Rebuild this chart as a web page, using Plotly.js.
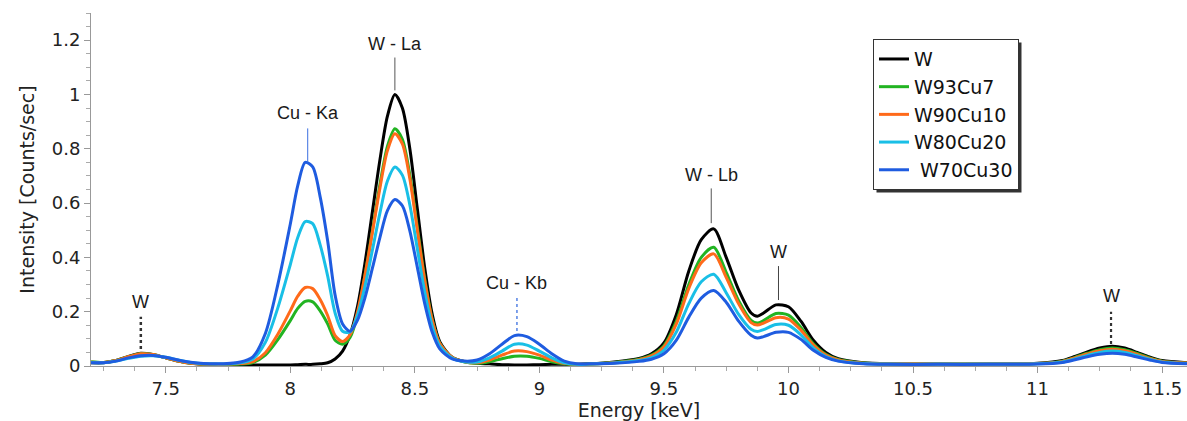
<!DOCTYPE html>
<html>
<head>
<meta charset="utf-8">
<script src="https://cdn.plot.ly/plotly-3.0.1.min.js"></script>
<style>html,body{margin:0;padding:0;background:#fff;}#chart{width:1187px;height:421px;}</style>
</head>
<body>
<div id="chart"></div>
<script>
// Energy grid [keV]
const energy = [7.20,7.25,7.30,7.35,7.40,7.45,7.50,7.55,7.60,7.70,7.80,
  7.85,7.90,7.95,8.00,
  8.03,8.06,8.09,8.12,8.15,8.18,8.21,8.24,8.27,8.30,8.33,8.36,8.39,8.42,8.45,8.48,8.51,8.54,8.57,8.60,
  8.65,8.70,
  8.75,8.80,8.85,8.90,8.95,9.00,9.05,9.10,9.15,9.20,
  9.30,9.40,
  9.45,9.50,9.55,9.60,9.65,9.70,9.75,9.80,9.85,
  9.875,
  9.90,9.95,10.00,10.05,10.10,10.15,10.20,
  10.30,10.40,10.60,10.80,11.00,
  11.10,11.15,11.20,11.25,11.30,11.35,11.40,11.45,11.50,11.60];

const seriesNames = ['W', 'W93Cu7', 'W90Cu10', 'W80Cu20', ' W70Cu30'];

const intensityW = [0.012,0.012,0.02,0.035,0.047,0.042,0.03,0.018,0.01,0.005,0.004,
  0.004,0.004,0.004,0.004,
  0.005,0.006,0.006,0.008,0.012,0.026,0.055,0.115,0.22,0.38,0.57,0.76,0.92,1.0,0.95,0.80,0.58,0.36,0.19,0.09,
  0.032,0.016,
  0.01,0.008,0.005,0.004,0.004,0.005,0.006,0.006,0.006,0.008,
  0.015,0.028,
  0.045,0.085,0.19,0.35,0.465,0.505,0.40,0.28,0.195,
  0.183,
  0.195,0.225,0.218,0.165,0.095,0.05,0.027,
  0.012,0.008,0.008,0.008,0.01,
  0.02,0.035,0.052,0.066,0.073,0.066,0.05,0.033,0.02,0.012];

const intensityW93Cu7 = [0.016,0.013,0.02,0.034,0.046,0.042,0.03,0.018,0.01,0.006,0.007,
  0.013,0.04,0.097,0.167,
  0.212,0.238,0.236,0.203,0.155,0.095,0.08,0.105,0.19,0.335,0.50,0.669,0.809,0.874,0.835,0.704,0.512,0.32,0.171,0.084,
  0.031,0.015,
  0.01,0.016,0.027,0.036,0.036,0.028,0.016,0.008,0.005,0.007,
  0.013,0.025,
  0.04,0.075,0.165,0.30,0.40,0.437,0.345,0.24,0.168,
  0.158,
  0.167,0.193,0.187,0.142,0.082,0.043,0.024,
  0.011,0.008,0.008,0.008,0.009,
  0.018,0.032,0.047,0.06,0.066,0.06,0.046,0.03,0.018,0.011];

const intensityW90Cu10 = [0.014,0.013,0.02,0.034,0.045,0.042,0.03,0.018,0.01,0.006,0.009,
  0.016,0.049,0.117,0.203,
  0.257,0.289,0.285,0.245,0.186,0.112,0.09,0.115,0.2,0.335,0.494,0.656,0.793,0.855,0.818,0.69,0.502,0.314,0.168,0.083,
  0.032,0.016,
  0.012,0.022,0.04,0.055,0.053,0.04,0.022,0.01,0.006,0.007,
  0.012,0.023,
  0.037,0.07,0.155,0.286,0.38,0.413,0.327,0.229,0.16,
  0.151,
  0.158,0.178,0.173,0.132,0.077,0.04,0.022,
  0.01,0.008,0.008,0.008,0.009,
  0.017,0.03,0.044,0.056,0.062,0.056,0.043,0.028,0.017,0.011];

const intensityW80Cu20 = [0.013,0.012,0.018,0.028,0.036,0.038,0.032,0.022,0.013,0.007,0.012,
  0.026,0.087,0.214,0.373,
  0.473,0.532,0.524,0.446,0.332,0.195,0.128,0.125,0.187,0.294,0.428,0.564,0.681,0.733,0.703,0.593,0.432,0.271,0.146,0.073,
  0.029,0.016,
  0.015,0.03,0.055,0.08,0.077,0.055,0.03,0.012,0.006,0.007,
  0.011,0.02,
  0.031,0.058,0.125,0.23,0.31,0.338,0.27,0.19,0.135,
  0.127,
  0.134,0.153,0.15,0.115,0.066,0.035,0.019,
  0.009,0.007,0.007,0.007,0.008,
  0.015,0.026,0.039,0.05,0.055,0.05,0.038,0.025,0.015,0.009];

const intensityW70Cu30 = [0.012,0.012,0.018,0.03,0.038,0.039,0.032,0.022,0.014,0.008,0.015,
  0.034,0.12,0.30,0.522,
  0.664,0.75,0.733,0.623,0.461,0.261,0.155,0.128,0.169,0.252,0.361,0.474,0.572,0.613,0.59,0.498,0.364,0.229,0.124,0.063,
  0.026,0.018,
  0.022,0.045,0.08,0.112,0.108,0.08,0.045,0.018,0.008,0.008,
  0.01,0.017,
  0.025,0.045,0.095,0.18,0.25,0.278,0.235,0.165,0.113,
  0.103,
  0.108,0.124,0.124,0.098,0.058,0.032,0.018,
  0.008,0.006,0.006,0.006,0.007,
  0.013,0.023,0.034,0.043,0.047,0.043,0.033,0.022,0.013,0.008];

// Peak labels
const peakLabels = ['W', 'Cu - Ka', 'W - La', 'Cu - Kb', 'W - Lb', 'W', 'W'];
const peakEnergy = [7.40, 8.07, 8.42, 8.91, 9.69, 9.96, 11.295];

// ---------- presentation ----------
const seriesData = [intensityW, intensityW93Cu7, intensityW90Cu10, intensityW80Cu20, intensityW70Cu30];
const seriesColors = ['#000000', '#22b422', '#ff6a1a', '#19bfe6', '#1f5ce0'];

const traces = seriesData.map((ys, i) => ({
  type: 'scatter', mode: 'lines', name: seriesNames[i],
  x: energy, y: ys,
  line: {color: seriesColors[i], width: 3, shape: 'spline', smoothing: 0.8},
  hoverinfo: 'skip'
}));

// label placement (layout only)
const labelStyle = [
  {ty: 0.236, top: 0.181, bot: 0.0625, color: '#333', w: 2.5, dash: 'dot'},
  {ty: 0.930, top: 0.875, bot: 0.75,   color: '#3a6fe0', w: 1, dash: 'solid'},
  {ty: 1.187, top: 1.136, bot: 1.015,  color: '#555', w: 1, dash: 'solid'},
  {ty: 0.305, top: 0.25,  bot: 0.129,  color: '#3a6fe0', w: 1.3, dash: 'dot'},
  {ty: 0.702, top: 0.654, bot: 0.526,  color: '#555', w: 1, dash: 'solid'},
  {ty: 0.419, top: 0.368, bot: 0.243,  color: '#444', w: 1, dash: 'solid'},
  {ty: 0.257, top: 0.20,  bot: 0.081,  color: '#333', w: 2.2, dash: 'dot'}
];

const annotations = peakLabels.map((t, i) => ({
  x: peakEnergy[i], y: labelStyle[i].ty, xref: 'x', yref: 'y',
  text: t, showarrow: false, xanchor: 'center', yanchor: 'middle',
  font: {family: 'Liberation Sans, Arial, sans-serif', size: 18, color: '#1a1a1a'}
}));

const shapes = peakLabels.map((t, i) => ({
  type: 'line', xref: 'x', yref: 'y',
  x0: peakEnergy[i], x1: peakEnergy[i], y0: labelStyle[i].bot, y1: labelStyle[i].top,
  line: {color: labelStyle[i].color, width: labelStyle[i].w, dash: labelStyle[i].dash}
}));

const tickFont = {family: 'DejaVu Sans, Verdana, sans-serif', size: 18, color: '#222'};

const layout = {
  width: 1187, height: 421,
  margin: {l: 91, r: 0, t: 13, b: 55},
  paper_bgcolor: '#fff', plot_bgcolor: 'rgba(0,0,0,0)',
  showlegend: true,
  legend: {
    x: 0.7135, y: 0.926, xanchor: 'left', yanchor: 'top',
    bgcolor: '#ffffff', bordercolor: '#333', borderwidth: 1,
    font: {family: 'DejaVu Sans, Verdana, sans-serif', size: 19, color: '#111'},
    tracegroupgap: 0
  },
  xaxis: {
    range: [7.2, 11.6], showgrid: false, zeroline: false,
    showline: true, linecolor: '#999', linewidth: 1,
    ticks: 'outside', ticklen: 6, tickcolor: '#999', tickwidth: 1,
    dtick: 0.5, tick0: 7.5, tickfont: tickFont,
    minor: {ticks: 'outside', dtick: 0.125, tick0: 7.5, ticklen: 4, tickcolor: '#aaa', showgrid: false},
    title: {text: 'Energy [keV]', font: {family: 'DejaVu Sans, Verdana, sans-serif', size: 19, color: '#222'}, standoff: 10},
    automargin: false
  },
  yaxis: {
    range: [0, 1.3], showgrid: false, zeroline: false,
    showline: true, linecolor: '#999', linewidth: 1,
    ticks: 'outside', ticklen: 6, tickcolor: '#999', tickwidth: 1,
    dtick: 0.2, tick0: 0, tickfont: tickFont,
    minor: {ticks: 'outside', dtick: 0.05, ticklen: 4, tickcolor: '#aaa', showgrid: false},
    title: {text: 'Intensity [Counts/sec]', font: {family: 'DejaVu Sans, Verdana, sans-serif', size: 19, color: '#222'}, standoff: 12},
    automargin: false
  },
  annotations: annotations,
  shapes: shapes
};

Plotly.newPlot('chart', traces, layout, {displayModeBar: false, staticPlot: true}).then(gd => {
  // drop shadow behind the legend box, sized from the drawn legend
  const bg = gd.querySelector('.legend .bg');
  if (!bg) return;
  const r = bg.getBoundingClientRect();
  const c = gd.getBoundingClientRect();
  const fl = gd._fullLayout, sz = fl._size;
  const px2x = p => (p - sz.l) / sz.w;
  const px2y = p => (sz.t + sz.h - p) / sz.h;
  const left = r.left - c.left, top = r.top - c.top;
  const shadow = {type: 'rect', xref: 'paper', yref: 'paper', layer: 'below',
    x0: px2x(left + 3), x1: px2x(left + r.width + 3),
    y0: px2y(top + r.height + 3), y1: px2y(top + 3),
    fillcolor: '#333', line: {width: 0}};
  return Plotly.relayout(gd, {shapes: shapes.concat([shadow])});
});
</script>
</body>
</html>
